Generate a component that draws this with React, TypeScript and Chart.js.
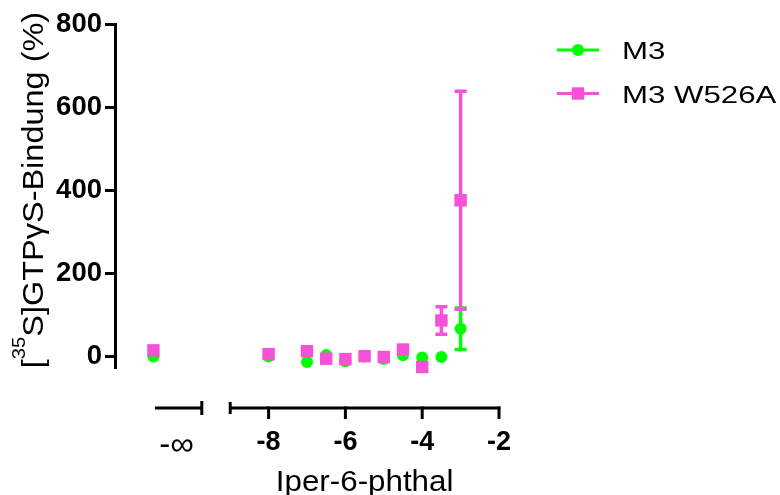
import { useEffect, useRef } from 'react';
import { Chart, registerables } from 'chart.js';

Chart.register(...registerables);

// ---------- data ----------
const controlLabel = '-∞';
const controlDose = -11; // position of the basal (no agonist) point on the broken axis
const controlTickPos = -10.4;
const logDoses = [-8, -7, -6.5, -6, -5.5, -5, -4.5, -4, -3.5, -3];

const seriesNames = ['M3', 'M3 W526A'];
const m3Control = 0;
const m3Values = [0, -13, 4, -11, 0, -6, 3, -2, -1, 67];
const m3Errors = [0, 0, 0, 0, 0, 0, 0, 0, 0, 50];
const w526aControl = 15;
const w526aValues = [6, 13, -5, -6, 1, -1, 17, -25, 87, 376];
const w526aErrors = [0, 0, 0, 0, 0, 0, 4, 0, 33, 262];

const yTicks = [0, 200, 400, 600, 800];
const xTicks = [-8, -6, -4, -2];
const xTitle = 'Iper-6-phthal';
const yTitleParts = ['[', '35', 'S]GTPγS-Bindung (%)'];

// ---------- style ----------
const FONT = "'Liberation Sans', Arial, sans-serif";
const GREEN = '#00FF00';
const PINK = '#F652D8';

const makeSeries = (control: number, values: number[], errors: number[]) => [
  { x: controlDose, y: control, err: 0 },
  ...logDoses.map((x, i) => ({ x, y: values[i], err: errors[i] })),
];

function stretchText(ctx: CanvasRenderingContext2D, text: string, x: number, y: number, sx: number) {
  ctx.save();
  ctx.translate(x, y);
  ctx.scale(sx, 1);
  ctx.fillText(text, 0, 0);
  ctx.restore();
}

function drawMarker(ctx: CanvasRenderingContext2D, style: string, x: number, y: number, color: string) {
  ctx.fillStyle = color;
  ctx.beginPath();
  if (style === 'circle') {
    ctx.arc(x, y, 6, 0, Math.PI * 2);
  } else {
    ctx.rect(x - 6.2, y - 6.2, 12.4, 12.4);
  }
  ctx.fill();
}

const errorBarPlugin = {
  id: 'errorBars',
  beforeDatasetsDraw(chart: any) {
    const { ctx } = chart;
    const xs = chart.scales.x;
    const ys = chart.scales.y;
    chart.data.datasets.forEach((ds: any) => {
      ctx.save();
      ctx.strokeStyle = ds.backgroundColor;
      ctx.lineWidth = 3.5;
      ds.data.forEach((p: any) => {
        if (!p.err) return;
        const px = xs.getPixelForValue(p.x);
        const top = ys.getPixelForValue(p.y + p.err);
        const bot = ys.getPixelForValue(p.y - p.err);
        ctx.beginPath();
        ctx.moveTo(px, top);
        ctx.lineTo(px, bot);
        ctx.moveTo(px - 6, top);
        ctx.lineTo(px + 6, top);
        ctx.moveTo(px - 6, bot);
        ctx.lineTo(px + 6, bot);
        ctx.stroke();
      });
      ctx.restore();
    });
  },
};

const decorPlugin = {
  id: 'decor',
  afterDraw(chart: any) {
    const { ctx, chartArea } = chart;
    const xs = chart.scales.x;
    const px = (v: number) => xs.getPixelForValue(v);
    const y0 = chartArea.bottom + 41;

    // broken x axis
    ctx.save();
    ctx.strokeStyle = '#000';
    ctx.lineWidth = 3;
    const line = (x1: number, y1: number, x2: number, y2: number) => {
      ctx.beginPath();
      ctx.moveTo(x1, y1);
      ctx.lineTo(x2, y2);
      ctx.stroke();
    };
    line(px(-10.96), y0, px(-9.74), y0);
    line(px(-9.74), y0 - 7, px(-9.74), y0 + 7);
    line(px(-9), y0, px(-2) + 1.5, y0);
    line(px(-9), y0 - 6, px(-9), y0 + 6);
    xTicks.forEach((v) => line(px(v), y0 - 1.5, px(v), y0 + 11));
    ctx.restore();

    // x title
    ctx.save();
    ctx.fillStyle = '#000';
    ctx.font = `29px ${FONT}`;
    ctx.textBaseline = 'alphabetic';
    const sxX = 1.08;
    const wX = ctx.measureText(xTitle).width * sxX;
    stretchText(ctx, xTitle, px((-9 + -2) / 2) - wX / 2, chartArea.bottom + 124, sxX);
    ctx.restore();

    // y title (rotated, with superscript)
    ctx.save();
    ctx.fillStyle = '#000';
    ctx.textBaseline = 'alphabetic';
    const sxY = 1.12;
    const mainFont = `29px ${FONT}`;
    const supFont = `18px ${FONT}`;
    ctx.font = mainFont;
    const w0 = ctx.measureText(yTitleParts[0]).width;
    const w2 = ctx.measureText(yTitleParts[2]).width;
    ctx.font = supFont;
    const w1 = ctx.measureText(yTitleParts[1]).width;
    const total = (w0 + w1 + w2) * sxY;
    ctx.translate(chartArea.left - 72, chartArea.top + 166);
    ctx.rotate(-Math.PI / 2);
    let cx = -total / 2;
    ctx.font = mainFont;
    stretchText(ctx, yTitleParts[0], cx, 0, sxY);
    cx += w0 * sxY;
    ctx.font = supFont;
    stretchText(ctx, yTitleParts[1], cx, -18, sxY);
    cx += w1 * sxY;
    ctx.font = mainFont;
    stretchText(ctx, yTitleParts[2], cx, 0, sxY);
    ctx.restore();

    // legend
    ctx.save();
    chart.data.datasets.forEach((ds: any, i: number) => {
      const rowY = 50 + i * 43.5;
      ctx.strokeStyle = ds.backgroundColor;
      ctx.lineWidth = 3;
      ctx.beginPath();
      ctx.moveTo(557, rowY);
      ctx.lineTo(599, rowY);
      ctx.stroke();
      drawMarker(ctx, ds.pointStyle, 578, rowY, ds.backgroundColor);
      ctx.fillStyle = '#000';
      ctx.font = `24px ${FONT}`;
      ctx.textBaseline = 'alphabetic';
      stretchText(ctx, ds.label, 622, rowY + 9, 1.3);
    });
    ctx.restore();
  },
};

export default function App() {
  const ref = useRef<HTMLCanvasElement>(null);

  useEffect(() => {
    document.body.style.margin = '0';
    const canvas = ref.current;
    if (!canvas) return;
    const chart = new Chart(canvas, {
      type: 'scatter',
      data: {
        datasets: [
          {
            label: seriesNames[0],
            data: makeSeries(m3Control, m3Values, m3Errors),
            backgroundColor: GREEN,
            borderColor: GREEN,
            pointStyle: 'circle',
            pointRadius: 6,
            pointBorderWidth: 0,
            showLine: false,
            clip: false,
            order: 1,
          },
          {
            label: seriesNames[1],
            data: makeSeries(w526aControl, w526aValues, w526aErrors),
            backgroundColor: PINK,
            borderColor: PINK,
            pointStyle: 'rect',
            pointRadius: 8.8,
            pointBorderWidth: 0,
            showLine: false,
            clip: false,
            order: 0,
          },
        ] as any,
      },
      options: {
        animation: false,
        responsive: false,
        devicePixelRatio: 1,
        layout: { padding: { top: 24, right: 281, bottom: 0, left: 0 } },
        plugins: {
          legend: { display: false },
          tooltip: { enabled: false },
        },
        scales: {
          x: {
            type: 'linear',
            min: -12,
            max: -2,
            grid: { display: false, drawTicks: false },
            border: { display: false },
            afterBuildTicks: (scale: any) => {
              scale.ticks = [controlTickPos, ...xTicks].map((value) => ({ value }));
            },
            afterFit: (scale: any) => {
              scale.height = 128;
            },
            ticks: {
              autoSkip: false,
              maxRotation: 0,
              padding: 59,
              color: '#000',
              font: (c: any) =>
                c.tick && c.tick.value === controlTickPos
                  ? { family: FONT, size: 33, weight: 'normal' }
                  : { family: FONT, size: 27, weight: 'bold' },
              callback: (value: any) => (value === controlTickPos ? controlLabel : String(value)),
            },
          },
          y: {
            type: 'linear',
            min: -25,
            max: 800,
            grid: {
              display: true,
              drawOnChartArea: false,
              drawTicks: true,
              tickLength: 10,
              lineWidth: 3,
              color: '#000',
            },
            border: { display: true, width: 3, color: '#000' },
            afterBuildTicks: (scale: any) => {
              scale.ticks = yTicks.map((value) => ({ value }));
            },
            afterFit: (scale: any) => {
              scale.width = 115;
            },
            ticks: {
              padding: 3,
              color: '#000',
              font: { family: FONT, size: 27.5, weight: 'bold' },
            },
          },
        },
      } as any,
      plugins: [errorBarPlugin, decorPlugin],
    });
    return () => chart.destroy();
  }, []);

  return (
    <div style={{ width: 780, height: 495 }}>
      <canvas ref={ref} width={780} height={495} style={{ display: 'block' }} />
    </div>
  );
}
